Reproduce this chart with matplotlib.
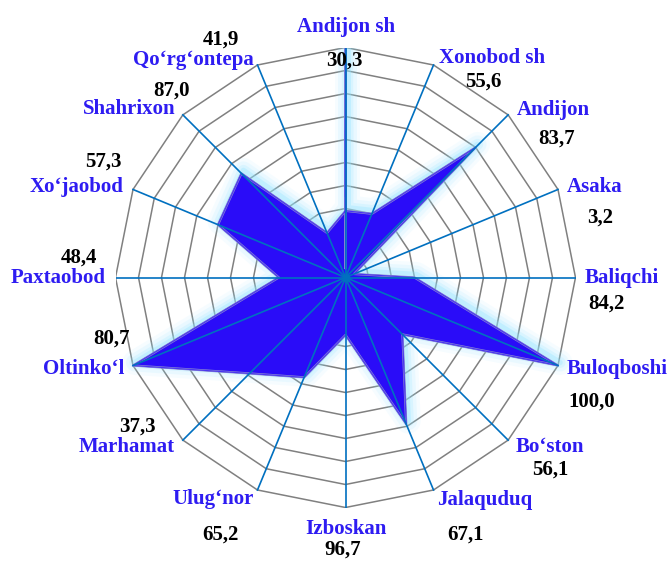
import numpy as np
import matplotlib
matplotlib.use('Agg')
import matplotlib.pyplot as plt
import matplotlib.transforms as mtransforms

# categories (clockwise from the top)
districts = ['Andijon sh', 'Xonobod sh', 'Andijon', 'Asaka', 'Baliqchi',
             'Buloqboshi', 'Bo‘ston', 'Jalaquduq', 'Izboskan', 'Ulug‘nor',
             'Marhamat', 'Oltinko‘l', 'Paxtaobod', 'Xo‘jaobod', 'Shahrixon',
             'Qo‘rg‘ontepa']
# numbers printed next to each name
printed = ['30,3', '55,6', '83,7', '3,2', '84,2', '100,0', '56,1', '67,1',
           '96,7', '65,2', '37,3', '80,7', '48,4', '57,3', '87,0', '41,9']
# values of the filled shape (axis 0..100)
shape_vals = [29, 30, 80, 4, 30, 100, 35, 69, 25, 47, 59, 100, 29, 60, 64, 21]

# label positions in pixels (x, y from top) - layout only
name_pos = [(346, 27), (492, 58), (553, 110), (595, 187), (622, 278),
            (617, 369), (550, 447), (485, 500), (346, 529), (213, 499),
            (127, 447), (84, 369), (58, 278), (77, 187), (129, 109),
            (193, 60)]
num_pos = [(344, 61), (483, 82), (557, 139), (600, 218), (606, 304),
           (592, 402), (550, 470), (466, 535), (343, 550), (220, 535),
           (137, 427), (112, 339), (79, 258), (103, 162), (172, 91),
           (221, 40)]

W, H = 669, 561
cx, cy, R = 345.5, 277.5, 230

fig = plt.figure(figsize=(W / 100, H / 100), dpi=100)
ax = fig.add_axes([(cx - R) / W, (H - cy - R) / H, 2 * R / W, 2 * R / H])
ax.set_xlim(-1, 1)
ax.set_ylim(-1, 1)
ax.set_axis_off()

n = len(districts)
theta = np.arange(n) * 2 * np.pi / n
sx, sy = np.sin(theta), np.cos(theta)

# grid rings (16-gons)
for k in range(1, 11):
    r = k / 10
    ax.plot(np.append(r * sx, r * sx[0]), np.append(r * sy, r * sy[0]),
            color='#808080', lw=1.1, zorder=1)

# filled shape
v = np.array(shape_vals) / 100.0
px = np.append(v * sx, v * sx[0])
py = np.append(v * sy, v * sy[0])

# soft light-blue glow, shifted up a little
glow_tr = mtransforms.offset_copy(ax.transData, fig=fig, x=2, y=3, units='dots')
for lw, a in [(18, 0.08), (13, 0.12), (8, 0.18), (4, 0.3)]:
    ax.plot(px, py, color='#8FE3FF', lw=lw, alpha=a, transform=glow_tr,
            solid_joinstyle='round', zorder=2)
ax.fill(px, py, color='#2A0CF8', zorder=3)
ax.plot(px, py, color='#8C8CCF', lw=1.6, zorder=3.5)
ax.plot(px, py, color='#4A35F0', lw=0.8, zorder=3.6)

# spokes
for i in range(n):
    ax.plot([0, sx[i]], [0, sy[i]], color='#0070C0', lw=1.2, zorder=4)
ax.plot([0], [0], 'o', color='#0070C0', ms=5, zorder=5)

# labels
for i in range(n):
    x, y = name_pos[i]
    fig.text(x / W, 1 - y / H, districts[i], ha='center', va='center',
             fontsize=15, fontweight='bold', family='Liberation Serif',
             color='#2E1CF2')
    x, y = num_pos[i]
    fig.text(x / W, 1 - y / H, printed[i], ha='center', va='center',
             fontsize=15, fontweight='bold', family='Liberation Serif',
             color='black')

fig.savefig('out.png', dpi=100)
